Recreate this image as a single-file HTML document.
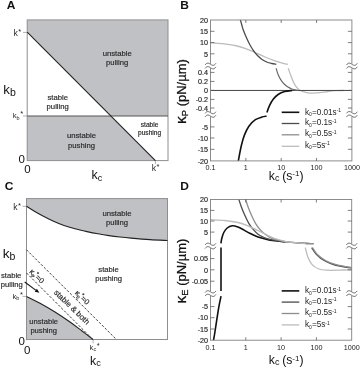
<!DOCTYPE html>
<html><head><meta charset="utf-8"><title>Figure</title>
<style>html,body{margin:0;padding:0;background:#fff}svg{display:block}</style></head>
<body>
<svg width="360" height="369" viewBox="0 0 360 369" font-family="Liberation Sans, Arial, sans-serif">
<style>.s{stroke:#2a2a2a;stroke-width:0.18px}</style>
<rect width="360" height="369" fill="#fff"/>
<g id="A">
<path d="M27.2 19.9 H168 V116.0 H110.9 L27.2 32.2 Z" fill="#c0c1c5"/>
<path d="M27.2 116.0 H110.9 L155.4 160.6 H27.2 Z" fill="#c0c1c5"/>
<rect x="27.2" y="19.9" width="140.8" height="140.7" fill="none" stroke="#8e8e8e" stroke-width="1"/>
<path d="M23 32.4 H27.2 M23 116.0 H27.2 M155.4 160.6 V164" stroke="#8e8e8e" stroke-width="0.7" fill="none"/>
<path d="M27.2 116.0 H168" stroke="#555" stroke-width="1.1" fill="none"/>
<path d="M27.2 32.2 L155.4 160.6" stroke="#222" stroke-width="1.1" fill="none"/>
<text transform="translate(6.8,9.2) scale(1.13,1)" font-size="10.6" font-weight="bold" fill="#111">A</text>
<text x="13.6" y="36.3" font-size="8.6" fill="#2a2a2a">k<tspan dy="-2.3" dx="0.4" font-size="7.5">*</tspan></text>
<text x="3.3" y="93.8" font-size="13.2" fill="#111">k<tspan dy="1.8" font-size="10.5">b</tspan></text>
<text x="12.7" y="118.4" font-size="7.6" fill="#2a2a2a">k<tspan dy="1.2" font-size="5.5">b</tspan><tspan dy="-3.6" dx="0.7" font-size="7.5">*</tspan></text>
<text x="18.4" y="163.4" font-size="11.5" fill="#111">0</text>
<text x="24.2" y="173.1" font-size="11.5" fill="#111">0</text>
<text x="91.6" y="179.3" font-size="12.4" fill="#111">k<tspan dy="1.7" font-size="9.2">c</tspan></text>
<text x="151.8" y="171.3" font-size="8.6" fill="#2a2a2a">k<tspan dy="-2.3" dx="0.4" font-size="7.5">*</tspan></text>
<text class="s" x="117.2" y="56.3" font-size="7.7" fill="#2a2a2a" text-anchor="middle">unstable</text>
<text class="s" x="117.2" y="65.39999999999999" font-size="7.7" fill="#2a2a2a" text-anchor="middle">pulling</text>
<text class="s" x="57.7" y="99.5" font-size="7.7" fill="#2a2a2a" text-anchor="middle">stable</text>
<text class="s" x="57.7" y="108.5" font-size="7.7" fill="#2a2a2a" text-anchor="middle">pulling</text>
<text class="s" x="81.5" y="138.4" font-size="7.7" fill="#2a2a2a" text-anchor="middle">unstable</text>
<text class="s" x="81.5" y="147.6" font-size="7.7" fill="#2a2a2a" text-anchor="middle">pushing</text>
<text class="s" x="149.6" y="127.1" font-size="6.6" fill="#2a2a2a" text-anchor="middle">stable</text>
<text class="s" x="149.6" y="135.29999999999998" font-size="6.6" fill="#2a2a2a" text-anchor="middle">pushing</text>
</g>
<g id="C">
<path d="M26.50 206.30 C27.75 207.08 31.42 209.47 34.00 211.00 C36.58 212.53 38.83 213.83 42.00 215.50 C45.17 217.17 49.33 219.33 53.00 221.00 C56.67 222.67 60.33 224.20 64.00 225.50 C67.67 226.80 71.17 227.78 75.00 228.80 C78.83 229.82 83.17 230.77 87.00 231.60 C90.83 232.43 94.33 233.13 98.00 233.80 C101.67 234.47 105.33 235.07 109.00 235.60 C112.67 236.13 116.33 236.58 120.00 237.00 C123.67 237.42 126.00 237.67 131.00 238.10 C136.00 238.53 143.92 239.20 150.00 239.60 C156.08 240.00 164.58 240.35 167.50 240.50 L167.5 198.6 L26.5 198.6 Z" fill="#c0c1c5"/>
<path d="M26.50 296.40 C28.75 297.55 35.25 300.70 40.00 303.30 C44.75 305.90 50.00 308.88 55.00 312.00 C60.00 315.12 65.50 318.83 70.00 322.00 C74.50 325.17 78.15 328.08 82.00 331.00 C85.85 333.92 91.25 338.08 93.10 339.50 L26.5 339.5 Z" fill="#c0c1c5"/>
<rect x="26.5" y="198.6" width="141.0" height="140.9" fill="none" stroke="#8e8e8e" stroke-width="1"/>
<path d="M22.5 206.3 H26.5 M22.5 296.4 H26.5 M93.1 339.5 V343.3" stroke="#8e8e8e" stroke-width="0.7" fill="none"/>
<path d="M26.50 206.30 C27.75 207.08 31.42 209.47 34.00 211.00 C36.58 212.53 38.83 213.83 42.00 215.50 C45.17 217.17 49.33 219.33 53.00 221.00 C56.67 222.67 60.33 224.20 64.00 225.50 C67.67 226.80 71.17 227.78 75.00 228.80 C78.83 229.82 83.17 230.77 87.00 231.60 C90.83 232.43 94.33 233.13 98.00 233.80 C101.67 234.47 105.33 235.07 109.00 235.60 C112.67 236.13 116.33 236.58 120.00 237.00 C123.67 237.42 126.00 237.67 131.00 238.10 C136.00 238.53 143.92 239.20 150.00 239.60 C156.08 240.00 164.58 240.35 167.50 240.50" stroke="#222" stroke-width="1.1" fill="none"/>
<path d="M26.50 296.40 C28.75 297.55 35.25 300.70 40.00 303.30 C44.75 305.90 50.00 308.88 55.00 312.00 C60.00 315.12 65.50 318.83 70.00 322.00 C74.50 325.17 78.15 328.08 82.00 331.00 C85.85 333.92 91.25 338.08 93.10 339.50" stroke="#222" stroke-width="1.1" fill="none"/>
<path d="M26.5 249.8 L116.4 339.5 M26.5 273 L91 337.6" stroke="#3c3c3c" stroke-width="1" stroke-dasharray="2.4 1.7" fill="none"/>
<path d="M24.7 282 L36 290.3" stroke="#111" stroke-width="1.05" fill="none"/><path d="M39.4 292.8 L34.7 291.7 L36.9 288.7 Z" fill="#111"/>
<text transform="translate(4.8,190.2) scale(1.13,1)" font-size="10.6" font-weight="bold" fill="#111">C</text>
<text x="13.2" y="210" font-size="8.6" fill="#2a2a2a">k<tspan dy="-2.3" dx="0.4" font-size="7.5">*</tspan></text>
<text x="2.8" y="258" font-size="13.6" fill="#111">k<tspan dy="1.8" font-size="10.5">b</tspan></text>
<text x="12.5" y="299" font-size="7.6" fill="#2a2a2a">k<tspan dy="1.2" font-size="5.5">b</tspan><tspan dy="-3.6" dx="0.7" font-size="7.5">*</tspan></text>
<text x="18.4" y="344.5" font-size="11.5" fill="#111">0</text>
<text x="23.9" y="353.6" font-size="11.5" fill="#111">0</text>
<text x="90.1" y="365.2" font-size="12.3" fill="#111">k<tspan dy="1.2" font-size="9.2">c</tspan></text>
<text x="89.6" y="350.2" font-size="7.6" fill="#2a2a2a">k<tspan dy="1.2" font-size="5.5">c</tspan><tspan dy="-3.6" dx="0.7" font-size="7.5">*</tspan></text>
<text class="s" x="117" y="215.9" font-size="7.7" fill="#2a2a2a" text-anchor="middle">unstable</text>
<text class="s" x="117" y="225.1" font-size="7.7" fill="#2a2a2a" text-anchor="middle">pulling</text>
<text class="s" x="108.6" y="272" font-size="7.7" fill="#2a2a2a" text-anchor="middle">stable</text>
<text class="s" x="108.6" y="281.0" font-size="7.7" fill="#2a2a2a" text-anchor="middle">pushing</text>
<text class="s" x="43.7" y="324" font-size="7.6" fill="#2a2a2a" text-anchor="middle">unstable</text>
<text class="s" x="43.7" y="333.1" font-size="7.6" fill="#2a2a2a" text-anchor="middle">pushing</text>
<text class="s" x="11.2" y="278.3" font-size="7.6" fill="#2a2a2a" text-anchor="middle">stable</text>
<text class="s" x="11.8" y="287.2" font-size="7.6" fill="#2a2a2a" text-anchor="middle">pulling</text>
<text class="s" transform="translate(70,309) rotate(44)" font-size="7.9" fill="#2a2a2a" text-anchor="middle">stable &amp; both</text>
<text class="s" transform="translate(29.1,272.2) rotate(44)" font-size="7.6" fill="#2a2a2a">κ<tspan dy="1.9" font-size="4.6">P</tspan><tspan dy="-4.6" dx="-1.0" font-size="5.8">*</tspan><tspan dy="2.7" dx="0.1">=0</tspan></text>
<text class="s" transform="translate(74.4,293.4) rotate(44)" font-size="7.6" fill="#2a2a2a">κ<tspan dy="1.9" font-size="4.6">E</tspan><tspan dy="-4.6" dx="-1.0" font-size="5.8">*</tspan><tspan dy="2.7" dx="0.1">=0</tspan></text>
</g>
<g id="B">
<text transform="translate(180.3,9.2) scale(1.13,1)" font-size="10.6" font-weight="bold" fill="#111">B</text>
<path d="M210.50 42.60 C212.42 42.77 217.92 43.12 222.00 43.60 C226.08 44.08 231.17 44.72 235.00 45.50 C238.83 46.28 241.67 47.13 245.00 48.30 C248.33 49.47 251.67 51.05 255.00 52.50 C258.33 53.95 261.67 55.62 265.00 57.00 C268.33 58.38 271.95 59.75 275.00 60.80 C278.05 61.85 281.13 62.72 283.30 63.30 C285.47 63.88 287.22 64.13 288.00 64.30" stroke="#bcbcbc" stroke-width="1.3" fill="none"/>
<path d="M288.30 68.30 C288.68 69.42 289.77 72.77 290.60 75.00 C291.43 77.23 292.38 79.75 293.30 81.70 C294.22 83.65 295.08 85.32 296.10 86.70 C297.12 88.08 298.20 89.18 299.40 90.00 C300.60 90.82 301.87 91.13 303.30 91.60 C304.73 92.07 306.38 92.55 308.00 92.80 C309.62 93.05 311.00 93.13 313.00 93.10 C315.00 93.07 317.50 92.87 320.00 92.60 C322.50 92.33 325.33 91.82 328.00 91.50 C330.67 91.18 333.33 90.88 336.00 90.70 C338.67 90.53 342.67 90.49 344.00 90.45" stroke="#bcbcbc" stroke-width="1.3" fill="none"/>
<path d="M210.5 90.45 H351.9" stroke="#444" stroke-width="1" fill="none"/>
<path d="M240.40 20.00 C240.63 20.83 241.32 23.33 241.80 25.00 C242.28 26.67 242.48 27.78 243.30 30.00 C244.12 32.22 245.58 35.80 246.70 38.30 C247.82 40.80 248.90 43.00 250.00 45.00 C251.10 47.00 252.05 48.55 253.30 50.30 C254.55 52.05 256.10 54.02 257.50 55.50 C258.90 56.98 260.17 58.12 261.70 59.20 C263.23 60.28 265.03 61.28 266.70 62.00 C268.37 62.72 270.10 63.12 271.70 63.50 C273.30 63.88 275.53 64.17 276.30 64.30" stroke="#4c4c4c" stroke-width="1.3" fill="none"/>
<path d="M276.10 68.30 C276.47 69.42 277.37 72.87 278.30 75.00 C279.23 77.13 280.40 79.30 281.70 81.10 C283.00 82.90 284.62 84.58 286.10 85.80 C287.58 87.02 289.12 87.72 290.60 88.40 C292.08 89.08 293.77 89.58 295.00 89.90 C296.23 90.22 297.50 90.23 298.00 90.30" stroke="#666" stroke-width="1.15" fill="none"/>
<path d="M238.30 160.90 C238.80 158.37 240.27 150.03 241.30 145.70 C242.33 141.37 243.23 138.15 244.50 134.90 C245.77 131.65 247.08 128.73 248.90 126.20 C250.72 123.67 253.23 121.22 255.40 119.70 C257.57 118.18 260.03 117.68 261.90 117.10 C263.77 116.52 265.82 116.35 266.60 116.20" stroke="#111" stroke-width="1.6" fill="none"/>
<path d="M266.90 112.50 C267.33 111.35 268.45 107.80 269.50 105.60 C270.55 103.40 271.77 101.15 273.20 99.30 C274.63 97.45 276.18 95.78 278.10 94.50 C280.02 93.22 282.35 92.27 284.70 91.60 C287.05 90.93 290.95 90.68 292.20 90.50" stroke="#111" stroke-width="1.6" fill="none"/>
<rect x="210.5" y="20.0" width="141.39999999999998" height="140.9" fill="none" stroke="#808080" stroke-width="0.9"/>
<path d="M210.5 31.3 h4 M351.9 31.3 h-4 M210.5 42.6 h4 M351.9 42.6 h-4 M210.5 53.8 h4 M351.9 53.8 h-4 M210.5 72.4 h4 M351.9 72.4 h-4 M210.5 81.4 h4 M351.9 81.4 h-4 M210.5 90.4 h4 M351.9 90.4 h-4 M210.5 99.4 h4 M351.9 99.4 h-4 M210.5 108 h4 M351.9 108 h-4 M210.5 126.9 h4 M351.9 126.9 h-4 M210.5 138 h4 M351.9 138 h-4 M210.5 149.3 h4 M351.9 149.3 h-4 M245.85 20.0 v3 M245.85 160.9 v-3 M281.20 20.0 v3 M281.20 160.9 v-3 M316.55 20.0 v3 M316.55 160.9 v-3 " stroke="#555" stroke-width="0.75" fill="none"/>
<rect x="208.5" y="63.8" width="4" height="4.4" fill="#fff"/>
<path d="M205.1 64.95 C206.9 62.35 208.7 62.95 210.5 64.25 S214.1 66.15 215.9 63.35" stroke="#444" stroke-width="0.8" fill="none"/>
<path d="M205.1 68.45 C206.9 65.85 208.7 66.45 210.5 67.75 S214.1 69.65 215.9 66.85" stroke="#444" stroke-width="0.8" fill="none"/>
<rect x="349.9" y="63.8" width="4" height="4.4" fill="#fff"/>
<path d="M346.5 64.95 C348.29999999999995 62.35 350.09999999999997 62.95 351.9 64.25 S355.5 66.15 357.29999999999995 63.35" stroke="#444" stroke-width="0.8" fill="none"/>
<path d="M346.5 68.45 C348.29999999999995 65.85 350.09999999999997 66.45 351.9 67.75 S355.5 69.65 357.29999999999995 66.85" stroke="#444" stroke-width="0.8" fill="none"/>
<rect x="208.5" y="112.2" width="4" height="4.4" fill="#fff"/>
<path d="M205.1 113.35000000000001 C206.9 110.75 208.7 111.35000000000001 210.5 112.65 S214.1 114.55000000000001 215.9 111.75" stroke="#444" stroke-width="0.8" fill="none"/>
<path d="M205.1 116.85000000000001 C206.9 114.25 208.7 114.85000000000001 210.5 116.15 S214.1 118.05000000000001 215.9 115.25" stroke="#444" stroke-width="0.8" fill="none"/>
<rect x="349.9" y="112.2" width="4" height="4.4" fill="#fff"/>
<path d="M346.5 113.35000000000001 C348.29999999999995 110.75 350.09999999999997 111.35000000000001 351.9 112.65 S355.5 114.55000000000001 357.29999999999995 111.75" stroke="#444" stroke-width="0.8" fill="none"/>
<path d="M346.5 116.85000000000001 C348.29999999999995 114.25 350.09999999999997 114.85000000000001 351.9 116.15 S355.5 118.05000000000001 357.29999999999995 115.25" stroke="#444" stroke-width="0.8" fill="none"/>
<text x="208.1" y="22.7" font-size="7.2" fill="#222" stroke="#222" stroke-width="0.15" text-anchor="end">20</text>
<text x="208.1" y="34.0" font-size="7.2" fill="#222" stroke="#222" stroke-width="0.15" text-anchor="end">15</text>
<text x="208.1" y="45.300000000000004" font-size="7.2" fill="#222" stroke="#222" stroke-width="0.15" text-anchor="end">10</text>
<text x="208.1" y="56.5" font-size="7.2" fill="#222" stroke="#222" stroke-width="0.15" text-anchor="end">5</text>
<text x="208.1" y="75.10000000000001" font-size="7.2" fill="#222" stroke="#222" stroke-width="0.15" text-anchor="end">0.4</text>
<text x="208.1" y="84.10000000000001" font-size="7.2" fill="#222" stroke="#222" stroke-width="0.15" text-anchor="end">0.2</text>
<text x="208.1" y="93.10000000000001" font-size="7.2" fill="#222" stroke="#222" stroke-width="0.15" text-anchor="end">0</text>
<text x="208.1" y="102.10000000000001" font-size="7.2" fill="#222" stroke="#222" stroke-width="0.15" text-anchor="end">-0.2</text>
<text x="208.1" y="110.7" font-size="7.2" fill="#222" stroke="#222" stroke-width="0.15" text-anchor="end">-0.4</text>
<text x="208.1" y="129.6" font-size="7.2" fill="#222" stroke="#222" stroke-width="0.15" text-anchor="end">-5</text>
<text x="208.1" y="140.7" font-size="7.2" fill="#222" stroke="#222" stroke-width="0.15" text-anchor="end">-10</text>
<text x="208.1" y="152.0" font-size="7.2" fill="#222" stroke="#222" stroke-width="0.15" text-anchor="end">-15</text>
<text x="208.1" y="163.6" font-size="7.2" fill="#222" stroke="#222" stroke-width="0.15" text-anchor="end">-20</text>
<text x="210.50" y="169.7" font-size="7.2" fill="#222" text-anchor="middle">0.1</text>
<text x="245.85" y="169.7" font-size="7.2" fill="#222" text-anchor="middle">1</text>
<text x="281.20" y="169.7" font-size="7.2" fill="#222" text-anchor="middle">10</text>
<text x="316.55" y="169.7" font-size="7.2" fill="#222" text-anchor="middle">100</text>
<text x="351.90" y="169.7" font-size="7.2" fill="#222" text-anchor="middle">1000</text>
<text transform="translate(185.6,91.5) rotate(-90)" font-size="13" fill="#111" text-anchor="middle" stroke="#111" stroke-width="0.25"><tspan font-size="15.5">κ</tspan><tspan dy="2.5" font-size="9.3">P</tspan><tspan dy="-2.5"> (pN/µm)</tspan></text>
<text x="268.8" y="180" font-size="12.2" fill="#111">k<tspan dy="1.2" font-size="9">c</tspan><tspan dy="-1.2" dx="-0.6"> (s</tspan><tspan dy="-3.6" font-size="8">-1</tspan><tspan dy="3.6">)</tspan></text>
<path d="M281.7 112.3 H299.3" stroke="#111" stroke-width="1.6" fill="none"/>
<text x="305" y="114.7" font-size="8.2" fill="#222">k<tspan dy="1.5" font-size="5">0</tspan><tspan dy="-1.5">=0.01s</tspan><tspan dy="-2.6" font-size="5">-1</tspan></text>
<path d="M281.7 123.5 H299.3" stroke="#4c4c4c" stroke-width="1.3" fill="none"/>
<text x="305" y="125.1" font-size="8.2" fill="#222">k<tspan dy="1.5" font-size="5">0</tspan><tspan dy="-1.5">=0.1s</tspan><tspan dy="-2.6" font-size="5">-1</tspan></text>
<path d="M281.7 134.8 H299.3" stroke="#8e8e8e" stroke-width="1.3" fill="none"/>
<text x="305" y="136.3" font-size="8.2" fill="#222">k<tspan dy="1.5" font-size="5">0</tspan><tspan dy="-1.5">=0.5s</tspan><tspan dy="-2.6" font-size="5">-1</tspan></text>
<path d="M281.7 146.3 H299.3" stroke="#bcbcbc" stroke-width="1.3" fill="none"/>
<text x="305" y="147.8" font-size="8.2" fill="#222">k<tspan dy="1.5" font-size="5">0</tspan><tspan dy="-1.5">=5s</tspan><tspan dy="-2.6" font-size="5">-1</tspan></text>
</g>
<g id="D">
<text transform="translate(180.3,190.2) scale(1.13,1)" font-size="10.6" font-weight="bold" fill="#111">D</text>
<path d="M221.00 243.30 C221.12 242.53 221.23 240.50 221.70 238.70 C222.17 236.90 222.88 234.28 223.80 232.50 C224.72 230.72 225.80 229.12 227.20 228.00 C228.60 226.88 230.53 226.02 232.20 225.80 C233.87 225.58 235.40 226.08 237.20 226.70 C239.00 227.32 240.92 228.40 243.00 229.50 C245.08 230.60 247.20 232.05 249.70 233.30 C252.20 234.55 254.95 235.93 258.00 237.00 C261.05 238.07 265.17 239.08 268.00 239.70 C270.83 240.32 272.17 240.33 275.00 240.70 C277.83 241.07 283.33 241.70 285.00 241.90" stroke="#111" stroke-width="1.6" fill="none"/>
<path d="M238.80 199.30 C239.22 200.53 240.32 204.08 241.30 206.70 C242.28 209.32 243.45 212.23 244.70 215.00 C245.95 217.77 247.42 220.93 248.80 223.30 C250.18 225.67 251.47 227.38 253.00 229.20 C254.53 231.02 256.33 232.90 258.00 234.20 C259.67 235.50 261.33 236.23 263.00 237.00 C264.67 237.77 266.00 238.25 268.00 238.80 C270.00 239.35 272.17 239.80 275.00 240.30 C277.83 240.80 280.83 241.35 285.00 241.80 C289.17 242.25 295.23 242.68 300.00 243.00 C304.77 243.32 311.33 243.58 313.60 243.70" stroke="#4c4c4c" stroke-width="1.3" fill="none"/>
<path d="M311.70 247.60 C312.46 248.70 314.10 252.00 316.25 254.20 C318.40 256.40 321.48 259.00 324.60 260.80 C327.73 262.60 330.48 263.78 335.00 265.00 C339.52 266.22 348.92 267.58 351.70 268.10" stroke="#4c4c4c" stroke-width="1.3" fill="none"/>
<path d="M245.50 199.30 C245.92 200.53 246.97 203.95 248.00 206.70 C249.03 209.45 250.45 213.03 251.70 215.80 C252.95 218.57 254.17 221.07 255.50 223.30 C256.83 225.53 258.32 227.53 259.70 229.20 C261.08 230.87 262.42 232.13 263.80 233.30 C265.18 234.47 266.13 235.18 268.00 236.20 C269.87 237.22 272.17 238.50 275.00 239.40 C277.83 240.30 280.83 241.00 285.00 241.60 C289.17 242.20 295.23 242.65 300.00 243.00 C304.77 243.35 311.33 243.58 313.60 243.70" stroke="#8e8e8e" stroke-width="1.3" fill="none"/>
<path d="M312.50 247.60 C313.27 248.70 314.93 252.05 317.10 254.20 C319.27 256.35 322.35 258.75 325.50 260.50 C328.65 262.25 331.63 263.52 336.00 264.70 C340.37 265.88 349.08 267.12 351.70 267.60" stroke="#8e8e8e" stroke-width="1.3" fill="none"/>
<path d="M210.50 219.70 C212.87 219.83 220.12 220.03 224.70 220.50 C229.28 220.97 234.12 221.62 238.00 222.50 C241.88 223.38 244.67 224.47 248.00 225.80 C251.33 227.13 254.67 228.88 258.00 230.50 C261.33 232.12 265.17 234.17 268.00 235.50 C270.83 236.83 272.17 237.53 275.00 238.50 C277.83 239.47 281.67 240.60 285.00 241.30 C288.33 242.00 291.58 242.35 295.00 242.70 C298.42 243.05 303.75 243.28 305.50 243.40" stroke="#bcbcbc" stroke-width="1.3" fill="none"/>
<path d="M305.30 247.60 C305.73 249.22 306.77 254.47 307.90 257.30 C309.03 260.13 310.37 262.69 312.10 264.60 C313.83 266.51 315.87 267.82 318.30 268.75 C320.73 269.68 323.08 269.97 326.70 270.20 C330.32 270.43 335.83 270.17 340.00 270.10 C344.17 270.03 349.75 269.85 351.70 269.80" stroke="#bcbcbc" stroke-width="1.3" fill="none"/>
<path d="M221 247.5 V291" stroke="#111" stroke-width="1.6" fill="none"/>
<path d="M221.00 296.20 C220.65 297.93 219.65 302.37 218.90 306.60 C218.15 310.83 217.20 317.12 216.50 321.60 C215.80 326.08 215.20 330.40 214.70 333.50 C214.20 336.60 213.70 339.08 213.50 340.20" stroke="#111" stroke-width="1.6" fill="none"/>
<rect x="210.5" y="199.5" width="141.2" height="140.7" fill="none" stroke="#808080" stroke-width="0.9"/>
<path d="M210.5 210.4 h4 M351.7 210.4 h-4 M210.5 221 h4 M351.7 221 h-4 M210.5 232.1 h4 M351.7 232.1 h-4 M210.5 258.6 h4 M351.7 258.6 h-4 M210.5 269.8 h4 M351.7 269.8 h-4 M210.5 281.2 h4 M351.7 281.2 h-4 M210.5 306.6 h4 M351.7 306.6 h-4 M210.5 317.7 h4 M351.7 317.7 h-4 M210.5 329 h4 M351.7 329 h-4 M245.80 199.5 v3 M245.80 340.2 v-3 M281.10 199.5 v3 M281.10 340.2 v-3 M316.40 199.5 v3 M316.40 340.2 v-3 " stroke="#555" stroke-width="0.75" fill="none"/>
<rect x="208.5" y="243.8" width="4" height="4.4" fill="#fff"/>
<path d="M205.1 244.95 C206.9 242.35 208.7 242.95 210.5 244.25 S214.1 246.15 215.9 243.35" stroke="#444" stroke-width="0.8" fill="none"/>
<path d="M205.1 248.45 C206.9 245.85 208.7 246.45 210.5 247.75 S214.1 249.65 215.9 246.85" stroke="#444" stroke-width="0.8" fill="none"/>
<rect x="349.7" y="243.8" width="4" height="4.4" fill="#fff"/>
<path d="M346.3 244.95 C348.09999999999997 242.35 349.9 242.95 351.7 244.25 S355.3 246.15 357.09999999999997 243.35" stroke="#444" stroke-width="0.8" fill="none"/>
<path d="M346.3 248.45 C348.09999999999997 245.85 349.9 246.45 351.7 247.75 S355.3 249.65 357.09999999999997 246.85" stroke="#444" stroke-width="0.8" fill="none"/>
<rect x="208.5" y="291.40000000000003" width="4" height="4.4" fill="#fff"/>
<path d="M205.1 292.55 C206.9 289.95000000000005 208.7 290.55 210.5 291.85 S214.1 293.75 215.9 290.95000000000005" stroke="#444" stroke-width="0.8" fill="none"/>
<path d="M205.1 296.05 C206.9 293.45000000000005 208.7 294.05 210.5 295.35 S214.1 297.25 215.9 294.45000000000005" stroke="#444" stroke-width="0.8" fill="none"/>
<rect x="349.7" y="291.40000000000003" width="4" height="4.4" fill="#fff"/>
<path d="M346.3 292.55 C348.09999999999997 289.95000000000005 349.9 290.55 351.7 291.85 S355.3 293.75 357.09999999999997 290.95000000000005" stroke="#444" stroke-width="0.8" fill="none"/>
<path d="M346.3 296.05 C348.09999999999997 293.45000000000005 349.9 294.05 351.7 295.35 S355.3 297.25 357.09999999999997 294.45000000000005" stroke="#444" stroke-width="0.8" fill="none"/>
<text x="208.1" y="202.0" font-size="7.2" fill="#222" stroke="#222" stroke-width="0.15" text-anchor="end">20</text>
<text x="208.1" y="213.1" font-size="7.2" fill="#222" stroke="#222" stroke-width="0.15" text-anchor="end">15</text>
<text x="208.1" y="223.7" font-size="7.2" fill="#222" stroke="#222" stroke-width="0.15" text-anchor="end">10</text>
<text x="208.1" y="234.79999999999998" font-size="7.2" fill="#222" stroke="#222" stroke-width="0.15" text-anchor="end">5</text>
<text x="208.1" y="261.3" font-size="7.2" fill="#222" stroke="#222" stroke-width="0.15" text-anchor="end">0.05</text>
<text x="208.1" y="272.5" font-size="7.2" fill="#222" stroke="#222" stroke-width="0.15" text-anchor="end">0</text>
<text x="208.1" y="283.9" font-size="7.2" fill="#222" stroke="#222" stroke-width="0.15" text-anchor="end">-0.05</text>
<text x="208.1" y="309.3" font-size="7.2" fill="#222" stroke="#222" stroke-width="0.15" text-anchor="end">-5</text>
<text x="208.1" y="320.4" font-size="7.2" fill="#222" stroke="#222" stroke-width="0.15" text-anchor="end">-10</text>
<text x="208.1" y="331.7" font-size="7.2" fill="#222" stroke="#222" stroke-width="0.15" text-anchor="end">-15</text>
<text x="208.1" y="342.9" font-size="7.2" fill="#222" stroke="#222" stroke-width="0.15" text-anchor="end">-20</text>
<text x="210.50" y="349.9" font-size="7.2" fill="#222" text-anchor="middle">0.1</text>
<text x="245.80" y="349.9" font-size="7.2" fill="#222" text-anchor="middle">1</text>
<text x="281.10" y="349.9" font-size="7.2" fill="#222" text-anchor="middle">10</text>
<text x="316.40" y="349.9" font-size="7.2" fill="#222" text-anchor="middle">100</text>
<text x="351.70" y="349.9" font-size="7.2" fill="#222" text-anchor="middle">1000</text>
<text transform="translate(185.6,271) rotate(-90)" font-size="13" fill="#111" text-anchor="middle" stroke="#111" stroke-width="0.25"><tspan font-size="15.5">κ</tspan><tspan dy="2.5" font-size="9.3">E</tspan><tspan dy="-2.5"> (pN/µm)</tspan></text>
<text x="268.8" y="364.2" font-size="12.2" fill="#111">k<tspan dy="1.2" font-size="9">c</tspan><tspan dy="-1.2" dx="-0.6"> (s</tspan><tspan dy="-3.6" font-size="8">-1</tspan><tspan dy="3.6">)</tspan></text>
<path d="M281.7 290.9 H299.3" stroke="#111" stroke-width="1.6" fill="none"/>
<text x="305" y="293.4" font-size="8.2" fill="#222">k<tspan dy="1.5" font-size="5">0</tspan><tspan dy="-1.5">=0.01s</tspan><tspan dy="-2.6" font-size="5">-1</tspan></text>
<path d="M281.7 302.1 H299.3" stroke="#4c4c4c" stroke-width="1.3" fill="none"/>
<text x="305" y="303.9" font-size="8.2" fill="#222">k<tspan dy="1.5" font-size="5">0</tspan><tspan dy="-1.5">=0.1s</tspan><tspan dy="-2.6" font-size="5">-1</tspan></text>
<path d="M281.7 313.5 H299.3" stroke="#8e8e8e" stroke-width="1.3" fill="none"/>
<text x="305" y="315.2" font-size="8.2" fill="#222">k<tspan dy="1.5" font-size="5">0</tspan><tspan dy="-1.5">=0.5s</tspan><tspan dy="-2.6" font-size="5">-1</tspan></text>
<path d="M281.7 324.9 H299.3" stroke="#bcbcbc" stroke-width="1.3" fill="none"/>
<text x="305" y="327.2" font-size="8.2" fill="#222">k<tspan dy="1.5" font-size="5">0</tspan><tspan dy="-1.5">=5s</tspan><tspan dy="-2.6" font-size="5">-1</tspan></text>
</g>
</svg>
</body></html>
